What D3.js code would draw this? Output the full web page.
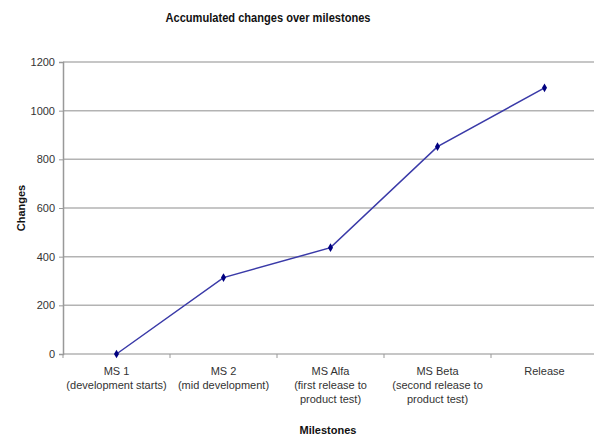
<!DOCTYPE html>
<html>
<head>
<meta charset="utf-8">
<script src="https://cdn.jsdelivr.net/npm/d3@7"></script>
<style>
  body { margin: 0; background: #fff; }
  svg { display: block; font-family: "Liberation Sans", Arial, sans-serif; }
</style>
</head>
<body>
<svg id="chart" width="594" height="441"></svg>
<script>
// chart data
const milestones = ["MS 1", "MS 2", "MS Alfa", "MS Beta", "Release"];
const milestoneNotes = [
    ["(development starts)"],
    ["(mid development)"],
    ["(first release to", "product test)"],
    ["(second release to", "product test)"],
    []
];
const changes = [0, 314, 437, 852, 1094];
const yTicks = [0, 200, 400, 600, 800, 1000, 1200];

const svg = d3.select("#chart");
const margin = { left: 63, top: 62, right: 598, bottom: 354 };

const x = d3.scaleBand()
    .domain(milestones)
    .range([margin.left, margin.right]);

const y = d3.scaleLinear()
    .domain([0, 1200])
    .range([margin.bottom, margin.top]);

// horizontal grid lines
svg.append("g")
    .selectAll("line")
    .data(yTicks)
    .join("line")
    .attr("x1", margin.left)
    .attr("x2", margin.right)
    .attr("y1", d => y(d))
    .attr("y2", d => y(d))
    .attr("stroke", "#b3b3b3")
    .attr("stroke-width", 1.5);

// y axis
const yAxis = svg.append("g")
    .attr("transform", `translate(${margin.left},0)`)
    .call(d3.axisLeft(y).tickValues(yTicks).tickFormat(d3.format("d")).tickSize(4).tickPadding(4));
yAxis.select(".domain").attr("stroke", "#999").attr("stroke-width", 1.5);
yAxis.selectAll(".tick line").attr("stroke", "#999");
yAxis.selectAll("text")
    .attr("fill", "#333")
    .style("font-size", "11px");

// x axis: ticks sit on the band boundaries
const bounds = milestones.map(m => x(m)).concat([margin.right]);
svg.append("g")
    .selectAll("line")
    .data(bounds)
    .join("line")
    .attr("x1", d => d)
    .attr("x2", d => d)
    .attr("y1", margin.bottom)
    .attr("y2", margin.bottom + 4)
    .attr("stroke", "#999");

const labels = svg.append("g")
    .selectAll("text")
    .data(milestones)
    .join("text")
    .attr("x", d => x(d) + x.bandwidth() / 2)
    .attr("y", 375)
    .attr("text-anchor", "middle")
    .attr("fill", "#333")
    .style("font-size", "11px");

labels.each(function(d, i) {
    const t = d3.select(this);
    const lines = [d].concat(milestoneNotes[i]);
    lines.forEach((line, j) => {
        t.append("tspan")
            .attr("x", x(d) + x.bandwidth() / 2)
            .attr("dy", j === 0 ? 0 : 14)
            .text(line);
    });
});

// data line
const line = d3.line()
    .x((d, i) => x(milestones[i]) + x.bandwidth() / 2)
    .y(d => y(d));

svg.append("path")
    .datum(changes)
    .attr("d", line)
    .attr("fill", "none")
    .attr("stroke", "#3a3aa8")
    .attr("stroke-width", 1.5);

// diamond markers
svg.append("g")
    .selectAll("path")
    .data(changes)
    .join("path")
    .attr("d", d3.symbol(d3.symbolDiamond, 22))
    .attr("transform", (d, i) => `translate(${x(milestones[i]) + x.bandwidth() / 2},${y(d)})`)
    .attr("fill", "#000080");

// titles
svg.append("text")
    .attr("x", 268)
    .attr("y", 22)
    .attr("text-anchor", "middle")
    .attr("textLength", 205)
    .attr("lengthAdjust", "spacingAndGlyphs")
    .style("font-size", "13px")
    .style("font-weight", "bold")
    .attr("fill", "#111")
    .text("Accumulated changes over milestones");

svg.append("text")
    .attr("transform", `translate(25,${(margin.top + margin.bottom) / 2}) rotate(-90)`)
    .attr("text-anchor", "middle")
    .style("font-size", "11px")
    .style("font-weight", "bold")
    .attr("fill", "#111")
    .text("Changes");

svg.append("text")
    .attr("x", 328)
    .attr("y", 434)
    .attr("text-anchor", "middle")
    .style("font-size", "11px")
    .style("font-weight", "bold")
    .attr("fill", "#111")
    .text("Milestones");
</script>
</body>
</html>
